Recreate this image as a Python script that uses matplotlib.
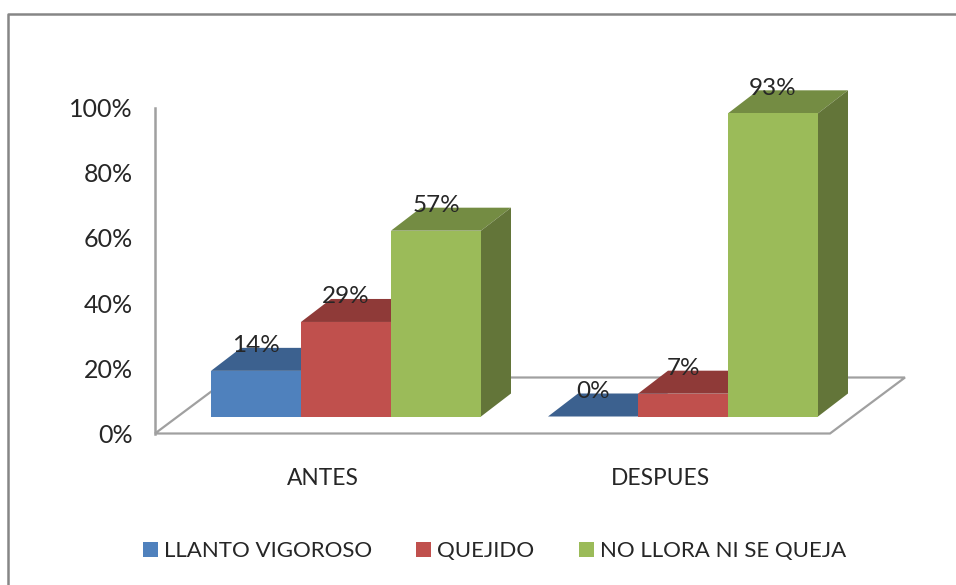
import matplotlib
matplotlib.use("Agg")
import matplotlib.pyplot as plt
from matplotlib.lines import Line2D
from matplotlib.patches import Patch, Polygon

categories = ["ANTES", "DESPUES"]
series_names = ["LLANTO VIGOROSO", "QUEJIDO", "NO LLORA NI SE QUEJA"]
antes = [14, 29, 57]
despues = [0, 7, 93]
y_ticks = [0, 20, 40, 60, 80, 100]

front_colors = ["#4F81BD", "#C0504D", "#9BBB59"]
top_colors = ["#3C618F", "#8F3A38", "#748C43"]
side_colors = ["#34557D", "#7D3331", "#637539"]

W, H = 956, 585
plt.rcParams["font.family"] = ["Lato", "DejaVu Sans"]

fig = plt.figure(figsize=(W / 100, H / 100), dpi=100)
# axes box in pixels of the picture: x 155-830, y 107-433
ax = fig.add_axes([155 / W, 1 - 433.5 / H, 675 / W, 326 / H])
ax.set_xlim(155, 830)
ax.set_ylim(0, 100)

px = 100 / 326  # percent per pixel
floor = 17 * px
dx, dy = 30, 23 * px
bar_w = 90
cat_x = [323, 660]

# floor of the 3d box
ax.add_patch(Polygon([(155, 0), (830, 0), (905, 56 * px), (230, 56 * px)], closed=True,
                     facecolor="white", edgecolor="#A0A0A0", lw=1.6, clip_on=False, zorder=1))

for c, vals in zip(cat_x, [antes, despues]):
    for i, v in enumerate(vals):
        x0 = c - 112 + i * bar_w
        x1 = x0 + bar_w
        y0 = floor
        y1 = floor + v
        ax.add_patch(Polygon([(x0, y1), (x1, y1), (x1 + dx, y1 + dy), (x0 + dx, y1 + dy)],
                             facecolor=top_colors[i], edgecolor="none", clip_on=False, zorder=3))
        ax.add_patch(Polygon([(x1, y0), (x1 + dx, y0 + dy), (x1 + dx, y1 + dy), (x1, y1)],
                             facecolor=side_colors[i], edgecolor="none", clip_on=False, zorder=3))
        ax.add_patch(Polygon([(x0, y0), (x1, y0), (x1, y1), (x0, y1)],
                             facecolor=front_colors[i], edgecolor="none", clip_on=False, zorder=3))
        ax.text(x0 + bar_w / 2, y1 + 25 * px, str(v) + "%", ha="center", va="center",
                fontsize=17.5, color="#262626", zorder=5)

ax.set_yticks(y_ticks)
ax.set_yticklabels([str(t) + "%" for t in y_ticks], fontsize=18, color="#262626")
ax.set_xticks(cat_x)
ax.set_xticklabels(categories, fontsize=16.4, color="#262626")
ax.tick_params(axis="y", length=0, pad=16)
ax.tick_params(axis="x", length=0, pad=25)
for s in ["top", "right", "bottom"]:
    ax.spines[s].set_visible(False)
ax.spines["left"].set_color("#A0A0A0")
ax.spines["left"].set_linewidth(1.8)
ax.patch.set_alpha(0)

# outer chart border, only left and top are in the picture
fig.add_artist(Line2D([8 / W, 8 / W, 1], [0, 1 - 14 / H, 1 - 14 / H], color="#868686", lw=1.8))

handles = [Patch(facecolor=col, edgecolor="none") for col in front_colors]
fig.legend(handles, series_names, ncol=3, loc="center", bbox_to_anchor=(494.5 / W, 1 - 551 / H),
           frameon=False, fontsize=16, handlelength=0.68, handleheight=0.68,
           handletextpad=0.27, columnspacing=1.98, labelcolor="#262626")

fig.savefig("out.png", dpi=100)
